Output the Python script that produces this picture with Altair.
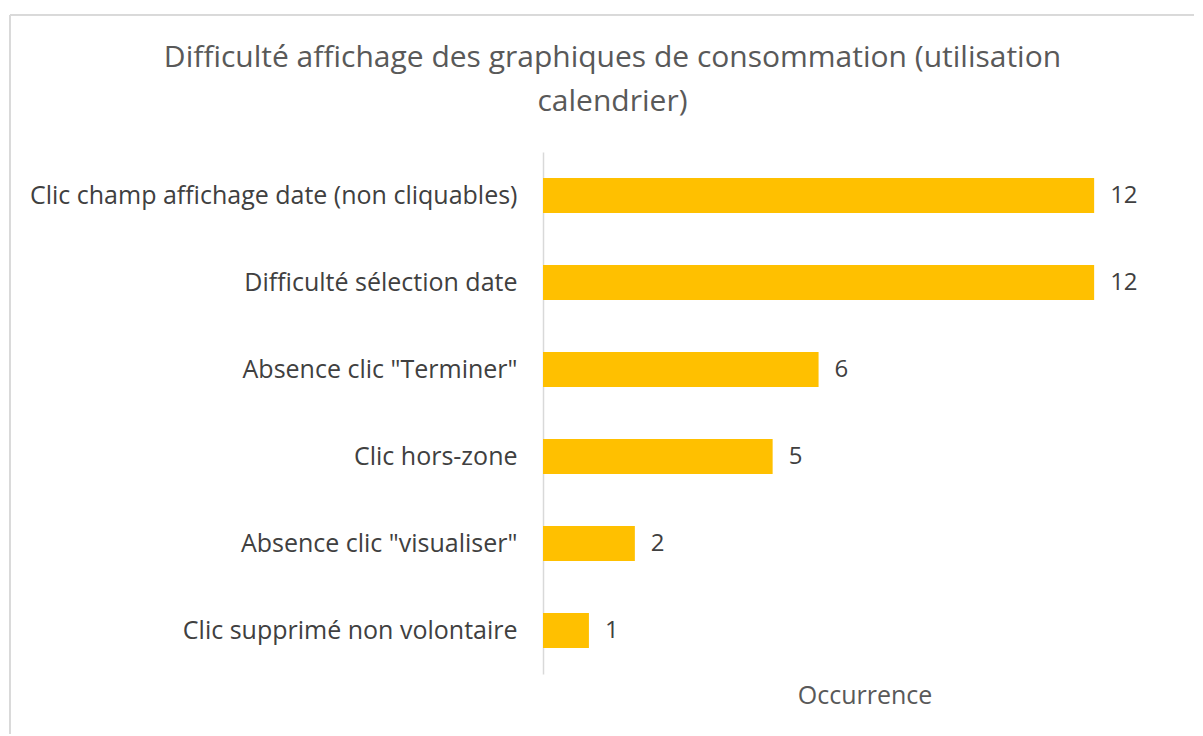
import altair as alt
import pandas as pd

categories = [
    "Clic champ affichage date (non cliquables)",
    "Difficulté sélection date",
    'Absence clic "Terminer"',
    "Clic hors-zone",
    'Absence clic "visualiser"',
    "Clic supprimé non volontaire",
]
values = [12, 12, 6, 5, 2, 1]

df = pd.DataFrame({"cat": categories, "val": values})

FONT = "Open Sans"

y_enc = alt.Y("cat:N", sort=categories, title=None,
              scale=alt.Scale(paddingInner=0.6, paddingOuter=0.3),
              axis=alt.Axis(labelFontSize=25, labelColor="#404040", labelFont=FONT,
                            labelPadding=26, ticks=False, domainColor="#D9D9D9",
                            domainWidth=1.5, labelLimit=700))
x_enc = alt.X("val:Q", title="Occurrence",
              scale=alt.Scale(domain=[0, 14], nice=False),
              axis=alt.Axis(labels=False, ticks=False, domain=False, grid=False,
                            titleFontSize=25, titleFont=FONT, titleColor="#595959",
                            titleFontWeight="normal", titlePadding=9))

bars = alt.Chart(df).mark_bar(color="#FFC000").encode(x=x_enc, y=y_enc)
labels = alt.Chart(df).mark_text(align="left", dx=16, fontSize=24, font=FONT,
                                 color="#404040", baseline="middle").encode(
    x="val:Q", y=alt.Y("cat:N", sort=categories), text="val:Q")

frame = alt.Chart(df).mark_rect(fill=None, stroke="#D9D9D9", strokeWidth=1).encode(
    x=alt.value(-533), x2=alt.value(720), y=alt.value(-137), y2=alt.value(600))

chart = alt.layer(frame, bars, labels).properties(
    width=643, height=522,
    title=alt.TitleParams(
        text=["Difficulté affichage des graphiques de consommation (utilisation",
              "calendrier)"],
        fontSize=30, font=FONT, color="#595959", fontWeight="normal",
        anchor="middle", dx=-252, dy=130, offset=28, lineHeight=44),
    autosize=alt.AutoSizeParams(type="none"),
    padding={"left": 535, "top": 144, "right": 8, "bottom": 60},
).configure_view(stroke=None)

chart.save("out.html", embed_options={"renderer": "svg", "actions": False})
